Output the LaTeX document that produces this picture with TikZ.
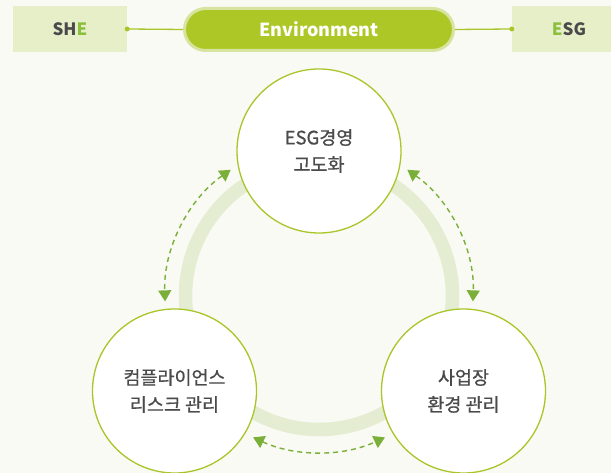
\documentclass[tikz,border=0pt]{standalone}
\usepackage{fontspec}
\setmainfont{Noto Sans CJK KR}
\newfontfamily\medfont{Noto Sans CJK KR}[FakeBold=0.7]
\usetikzlibrary{arrows.meta,shapes.misc}
\definecolor{bg}{HTML}{F9FAF3}
\definecolor{boxfill}{HTML}{E6EFC8}
\definecolor{pillfill}{HTML}{ADC826}
\definecolor{pillborder}{HTML}{D6E4A0}
\definecolor{linegreen}{HTML}{A8C62A}
\definecolor{ringc}{HTML}{E4EDD1}
\definecolor{arrowc}{HTML}{7AB03A}
\definecolor{txt}{HTML}{4A4A4A}
\definecolor{egreen}{HTML}{8CBF3F}
\tikzset{
  labelbox/.style={fill=boxfill, draw=none, minimum width=114pt, minimum height=46pt, inner sep=0pt,
    font=\fontsize{17}{20}\selectfont\bfseries, text=txt},
  pill/.style={rounded rectangle, fill=pillfill, draw=pillborder, line width=3pt,
    minimum width=269pt, minimum height=42pt, inner sep=0pt,
    font=\fontsize{18}{20}\selectfont\bfseries, text=white},
  topline/.style={draw=linegreen, line width=1.3pt},
  dotc/.style={circle, fill=linegreen, inner sep=0pt, minimum size=5pt},
  topic/.style={circle, fill=white, draw=linegreen, line width=1.3pt, minimum size=164pt,
    inner sep=0pt, align=center, text=txt, font=\medfont\fontsize{18.5}{27}\selectfont},
  ringstyle/.style={draw=ringc, line width=13.5pt},
  dasharrow/.style={draw=arrowc, line width=1.4pt, dash pattern=on 5pt off 4pt,
    {Triangle[width=13pt,length=11pt]}-{Triangle[width=13pt,length=11pt]}},
}
\begin{document}
\begin{tikzpicture}[x=1pt,y=1pt]
\fill[bg] (0,0) rectangle (611,473);
\useasboundingbox (0,0) rectangle (611,473);
% ring
\coordinate (rc) at (319,177);
\draw[ringstyle] (rc) circle (133.5);
% dashed arrows
\draw[dasharrow] ([shift={(125:154)}]rc) arc[start angle=125, end angle=182, radius=154];
\draw[dasharrow] ([shift={(55:154)}]rc) arc[start angle=55, end angle=-2, radius=154];
\draw[dasharrow] ([shift={(245:156)}]rc) arc[start angle=245, end angle=295, radius=156];
% circles
\node[topic] (top) at (319,322) {ESG경영\\고도화};
\node[topic] (bl) at (174.5,82) {컴플라이언스\\리스크 관리};
\node[topic] (br) at (463.5,82) {사업장\\환경 관리};
% top bar
\node[labelbox] (she) at (70,444) {SH\textcolor{egreen}{E}};
\node[labelbox] (esg) at (569,444) {\textcolor{egreen}{E}SG};
\node[pill] (env) at (319,443.5) {Environment};
\coordinate (d1) at (she.east);
\coordinate (d2) at (esg.west);
\draw[topline] (d1) -- (env.west);
\draw[topline] (env.east) -- (d2);
\node[dotc] at (d1) {};
\node[dotc] at (d2) {};
\end{tikzpicture}
\end{document}
